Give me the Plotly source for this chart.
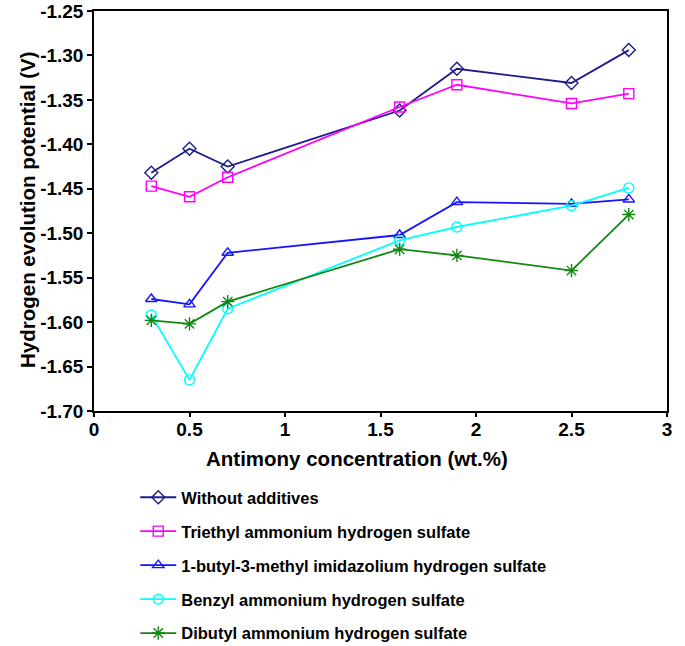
import plotly.graph_objects as go

x_conc = [0.3, 0.5, 0.7, 1.6, 1.9, 2.5, 2.8]

series_names = [
    "Without additives",
    "Triethyl ammonium hydrogen sulfate",
    "1-butyl-3-methyl imidazolium hydrogen sulfate",
    "Benzyl ammonium hydrogen sulfate",
    "Dibutyl ammonium hydrogen sulfate",
]
without_additives = [-1.432, -1.405, -1.425, -1.362, -1.315, -1.331, -1.294]
triethyl = [-1.447, -1.459, -1.437, -1.358, -1.333, -1.354, -1.343]
butyl_methyl_imid = [-1.574, -1.580, -1.522, -1.502, -1.465, -1.467, -1.462]
benzyl = [-1.592, -1.665, -1.585, -1.508, -1.493, -1.469, -1.449]
dibutyl = [-1.598, -1.602, -1.577, -1.518, -1.525, -1.542, -1.479]

colors = ["#1c1c8c", "#ff00ff", "#1515ff", "#00ffff", "#118811"]
symbols = ["diamond-open", "square-open", "triangle-up-open", "circle-open", "asterisk-open"]

y_ticks = [-1.25, -1.30, -1.35, -1.40, -1.45, -1.50, -1.55, -1.60, -1.65, -1.70]
y_ticktext = [f"{v:.2f}" for v in y_ticks]
x_ticks = [0, 0.5, 1, 1.5, 2, 2.5, 3]
x_ticktext = ["0", "0.5", "1", "1.5", "2", "2.5", "3"]

FONT = "Liberation Sans, Arial, sans-serif"

fig = go.Figure()
all_y = [without_additives, triethyl, butyl_methyl_imid, benzyl, dibutyl]
for i, (name, ys) in enumerate(zip(series_names, all_y)):
    fig.add_trace(go.Scatter(
        x=x_conc, y=ys, name=name, mode="lines+markers",
        legendgroup=f"g{i}",
        line=dict(color=colors[i], width=1.8),
        marker=dict(symbol=symbols[i], size=10 if i != 4 else 11,
                    color=colors[i], line=dict(color=colors[i], width=1.4)),
    ))

fig.update_layout(
    width=685, height=646,
    margin=dict(l=94, r=18, t=11, b=235, autoexpand=False),
    paper_bgcolor="white", plot_bgcolor="white",
    font=dict(family=FONT, color="black"),
    showlegend=True,
    legend=dict(
        x=0.072, y=-(480 - 411) / 400, xanchor="left", yanchor="top",
        font=dict(family=FONT, size=16.5, color="black", weight="bold"),
        tracegroupgap=9.5, itemwidth=36, bgcolor="rgba(0,0,0,0)",
    ),
    xaxis=dict(
        range=[0, 3], tickvals=x_ticks, ticktext=x_ticktext,
        showline=True, linecolor="black", linewidth=1.5, mirror=True,
        ticks="outside", ticklen=4, tickcolor="black", tickwidth=1.5,
        ticklabelstandoff=-4,
        showgrid=False, zeroline=False,
        tickfont=dict(family=FONT, size=19, weight="bold"),
    ),
    yaxis=dict(
        range=[-1.70, -1.25], tickvals=y_ticks, ticktext=y_ticktext,
        showline=True, linecolor="black", linewidth=1.5, mirror=True,
        ticks="outside", ticklen=5, tickcolor="black", tickwidth=1.5,
        showgrid=False, zeroline=False,
        tickfont=dict(family=FONT, size=19, weight="bold"),
    ),
    annotations=[
        dict(
            text="Antimony concentration (wt.%)", xref="paper", yref="paper",
            x=(357 - 94) / 573, y=-(458 - 411) / 400, xanchor="center", yanchor="middle",
            showarrow=False, font=dict(family=FONT, size=20.5, weight="bold"),
        ),
        dict(
            text="Hydrogen evolution potential (V)", xref="paper", yref="paper",
            x=-(94 - 27) / 573, y=(411 - 210) / 400, xanchor="center", yanchor="middle",
            textangle=-90, showarrow=False, font=dict(family=FONT, size=20.5, weight="bold"),
        ),
    ],
)

fig.write_html("out.html")
